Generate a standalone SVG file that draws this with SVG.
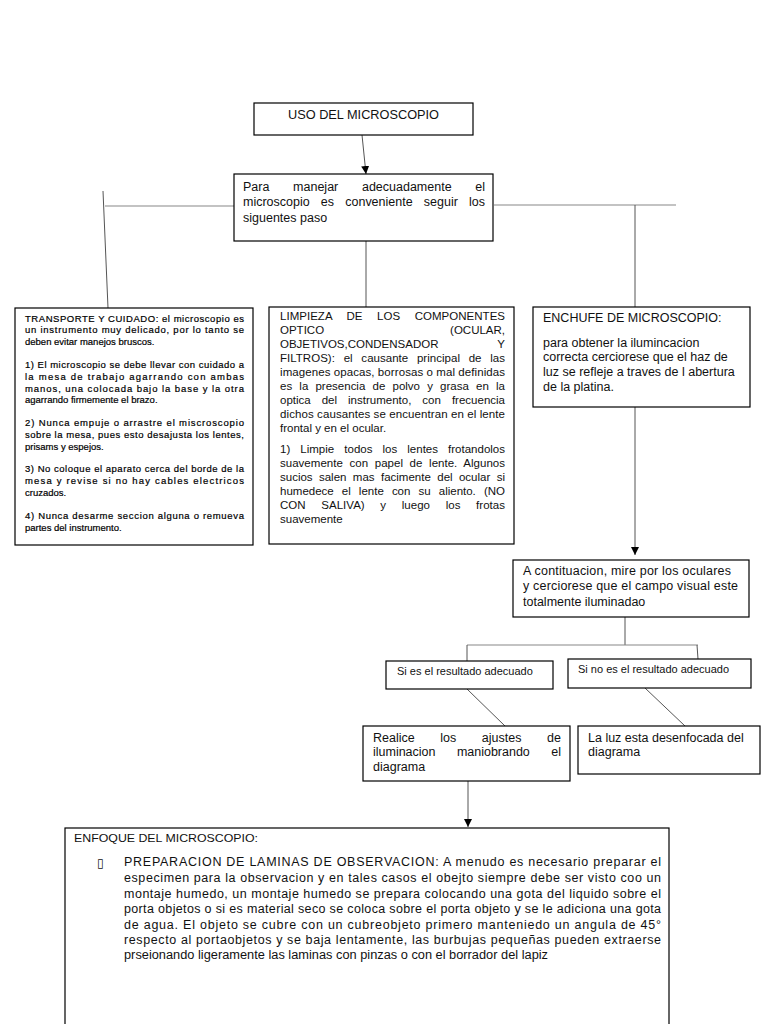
<svg xmlns="http://www.w3.org/2000/svg" width="768" height="1024" viewBox="0 0 768 1024">
<defs>
<marker id="ah" viewBox="0 0 10 10" refX="10" refY="5" markerWidth="8" markerHeight="9" markerUnits="userSpaceOnUse" orient="auto">
<path d="M0,0 L10,5 L0,10 Z" fill="#000"/>
</marker>
<style>
.box{fill:#fff;stroke:#000;stroke-width:1.2}
.ln{stroke:#555;stroke-width:1;fill:none}
.lh{stroke:#888;stroke-width:1.2;fill:none}
text{font-family:"Liberation Sans",Arial,sans-serif;fill:#111}
.t12{font-size:12.5px}
.t11{font-size:11.5px}
.t9{font-size:9.5px;fill:#000;stroke:#000;stroke-width:0.2}
.t10{font-size:11px}
</style>
</defs>
<rect width="768" height="1024" fill="#fff"/>

<g id="connectors">
<line class="ln" x1="362" y1="135" x2="366" y2="174" marker-end="url(#ah)"/>
<line class="lh" x1="105" y1="206" x2="234" y2="206"/>
<line class="ln" x1="103" y1="191" x2="108" y2="308"/>
<line class="lh" x1="494" y1="205" x2="676" y2="205"/>
<line class="ln" x1="635" y1="205" x2="635" y2="307"/>
<line class="ln" x1="366" y1="241" x2="366" y2="307"/>
<line class="ln" x1="635" y1="407" x2="635" y2="555" marker-end="url(#ah)"/>
<line class="ln" x1="625" y1="617" x2="625" y2="645"/>
<line class="lh" x1="467" y1="645" x2="698" y2="645"/>
<line class="ln" x1="467" y1="645" x2="467" y2="661"/>
<line class="ln" x1="697" y1="645" x2="698" y2="659"/>
<line class="ln" x1="467" y1="689" x2="505" y2="726"/>
<line class="ln" x1="645" y1="688" x2="685" y2="726"/>
<line class="ln" x1="468" y1="781" x2="468" y2="827" marker-end="url(#ah)"/>
</g>

<g id="n-uso">
<rect class="box" x="254" y="103" width="219" height="32"/>
<text class="t12" x="288" y="119" textLength="151" lengthAdjust="spacingAndGlyphs">USO DEL MICROSCOPIO</text>
</g>

<g id="n-para">
<rect class="box" x="234" y="174" width="259" height="67"/>
<text class="t12" x="243" y="191" word-spacing="20.2" textLength="242" lengthAdjust="spacing">Para manejar adecuadamente el</text>
<text class="t12" x="243" y="206" word-spacing="7.7" textLength="242" lengthAdjust="spacing">microscopio es conveniente seguir los</text>
<text class="t12" x="243" y="222">siguentes paso</text>
</g>

<g id="n-transporte">
<rect class="box" x="15" y="308" width="238" height="237"/>
<text class="t9" x="25" y="322" textLength="219" lengthAdjust="spacing">TRANSPORTE Y CUIDADO: el microscopio es</text>
<text class="t9" x="25" y="333" textLength="219" lengthAdjust="spacing">un instrumento muy delicado, por lo tanto se</text>
<text class="t9" x="25" y="345">deben evitar manejos bruscos.</text>
<text class="t9" x="25" y="368" textLength="219" lengthAdjust="spacing">1) El microscopio se debe llevar con cuidado a</text>
<text class="t9" x="25" y="380" textLength="219" lengthAdjust="spacing">la mesa de trabajo agarrando con ambas</text>
<text class="t9" x="25" y="392" textLength="219" lengthAdjust="spacing">manos, una colocada bajo la base y la otra</text>
<text class="t9" x="25" y="403">agarrando firmemente el brazo.</text>
<text class="t9" x="25" y="426" textLength="219" lengthAdjust="spacing">2) Nunca empuje o arrastre el miscroscopio</text>
<text class="t9" x="25" y="438" textLength="219" lengthAdjust="spacing">sobre la mesa, pues esto desajusta los lentes,</text>
<text class="t9" x="25" y="450">prisams y espejos.</text>
<text class="t9" x="25" y="472" textLength="219" lengthAdjust="spacing">3) No coloque el aparato cerca del borde de la</text>
<text class="t9" x="25" y="484" textLength="219" lengthAdjust="spacing">mesa y revise si no hay cables electricos</text>
<text class="t9" x="25" y="496">cruzados.</text>
<text class="t9" x="25" y="519" textLength="219" lengthAdjust="spacing">4) Nunca desarme seccion alguna o remueva</text>
<text class="t9" x="25" y="531">partes del instrumento.</text>
</g>

<g id="n-limpieza">
<rect class="box" x="269" y="307" width="245" height="237"/>
<text class="t11" x="280" y="320" word-spacing="11.3" textLength="225" lengthAdjust="spacing">LIMPIEZA DE LOS COMPONENTES</text>
<text class="t11" x="280" y="334">OPTICO</text>
<text class="t11" x="505" y="334" text-anchor="end">(OCULAR,</text>
<text class="t11" x="280" y="348">OBJETIVOS,CONDENSADOR</text>
<text class="t11" x="505" y="348" text-anchor="end">Y</text>
<text class="t11" x="280" y="362" word-spacing="5.5" textLength="225" lengthAdjust="spacing">FILTROS): el causante principal de las</text>
<text class="t11" x="280" y="376" textLength="225" lengthAdjust="spacing">imagenes opacas, borrosas o mal definidas</text>
<text class="t11" x="280" y="390" word-spacing="4" textLength="225" lengthAdjust="spacing">es la presencia de polvo y grasa en la</text>
<text class="t11" x="280" y="404" word-spacing="7.8" textLength="225" lengthAdjust="spacing">optica del instrumento, con frecuencia</text>
<text class="t11" x="280" y="418" textLength="225" lengthAdjust="spacing">dichos causantes se encuentran en el lente</text>
<text class="t11" x="280" y="432">frontal y en el ocular.</text>
<text class="t11" x="280" y="453" word-spacing="6.9" textLength="225" lengthAdjust="spacing">1) Limpie todos los lentes frotandolos</text>
<text class="t11" x="280" y="467" word-spacing="3.4" textLength="225" lengthAdjust="spacing">suavemente con papel de lente. Algunos</text>
<text class="t11" x="280" y="481" word-spacing="3.2" textLength="225" lengthAdjust="spacing">sucios salen mas facimente del ocular si</text>
<text class="t11" x="280" y="495" word-spacing="4.9" textLength="225" lengthAdjust="spacing">humedece el lente con su aliento. (NO</text>
<text class="t11" x="280" y="509" word-spacing="12.4" textLength="225" lengthAdjust="spacing">CON SALIVA) y luego los frotas</text>
<text class="t11" x="280" y="523">suavemente</text>
</g>

<g id="n-enchufe">
<rect class="box" x="533" y="307" width="217" height="100"/>
<text class="t12" x="543" y="322">ENCHUFE DE MICROSCOPIO:</text>
<text class="t12" x="543" y="347">para obtener la ilumincacion</text>
<text class="t12" x="543" y="361">correcta cerciorese que el haz de</text>
<text class="t12" x="543" y="376">luz se refleje a traves de l abertura</text>
<text class="t12" x="543" y="391">de la platina.</text>
</g>

<g id="n-contituacion">
<rect class="box" x="513" y="560" width="236" height="57"/>
<text class="t12" x="523" y="575" textLength="208" lengthAdjust="spacing">A contituacion, mire por los oculares</text>
<text class="t12" x="523" y="590" textLength="215" lengthAdjust="spacing">y cerciorese que el campo visual este</text>
<text class="t12" x="523" y="606">totalmente iluminadao</text>
</g>

<g id="n-si">
<rect class="box" x="386" y="661" width="167" height="28"/>
<text class="t10" x="397" y="675">Si es el resultado adecuado</text>
</g>

<g id="n-sino">
<rect class="box" x="568" y="659" width="183" height="29"/>
<text class="t10" x="578" y="673">Si no es el resultado adecuado</text>
</g>

<g id="n-realice">
<rect class="box" x="363" y="726" width="207" height="55"/>
<text class="t12" x="373" y="742" word-spacing="22.1" textLength="188" lengthAdjust="spacing">Realice los ajustes de</text>
<text class="t12" x="373" y="756" word-spacing="18" textLength="188" lengthAdjust="spacing">iluminacion maniobrando el</text>
<text class="t12" x="373" y="771">diagrama</text>
</g>

<g id="n-luz">
<rect class="box" x="578" y="726" width="182" height="48"/>
<text class="t12" x="588" y="742">La luz esta desenfocada del</text>
<text class="t12" x="588" y="756">diagrama</text>
</g>

<g id="n-enfoque">
<rect class="box" x="65" y="828" width="604" height="210"/>
<text class="t10" x="74" y="842" textLength="184" lengthAdjust="spacingAndGlyphs">ENFOQUE DEL MICROSCOPIO:</text>
<text x="97" y="867" style="font-family:'DejaVu Sans',sans-serif;font-size:12px">▯</text>
<text class="t12" x="124" y="866" textLength="537" lengthAdjust="spacing">PREPARACION DE LAMINAS DE OBSERVACION: A menudo es necesario preparar el</text>
<text class="t12" x="124" y="882" textLength="537" lengthAdjust="spacing">especimen para la observacion y en tales casos el obejto siempre debe ser visto coo un</text>
<text class="t12" x="124" y="898" textLength="537" lengthAdjust="spacing">montaje humedo, un montaje humedo se prepara colocando una gota del liquido sobre el</text>
<text class="t12" x="124" y="913" textLength="537" lengthAdjust="spacing">porta objetos o si es material seco se coloca sobre el porta objeto y se le adiciona una gota</text>
<text class="t12" x="124" y="929" textLength="537" lengthAdjust="spacing">de agua. El objeto se cubre con un cubreobjeto primero manteniedo un angula de 45°</text>
<text class="t12" x="124" y="944" textLength="537" lengthAdjust="spacing">respecto al portaobjetos y se baja lentamente, las burbujas pequeñas pueden extraerse</text>
<text class="t12" x="124" y="959" textLength="424" lengthAdjust="spacingAndGlyphs">prseionando ligeramente las laminas con pinzas o con el borrador del lapiz</text>
</g>
</svg>
